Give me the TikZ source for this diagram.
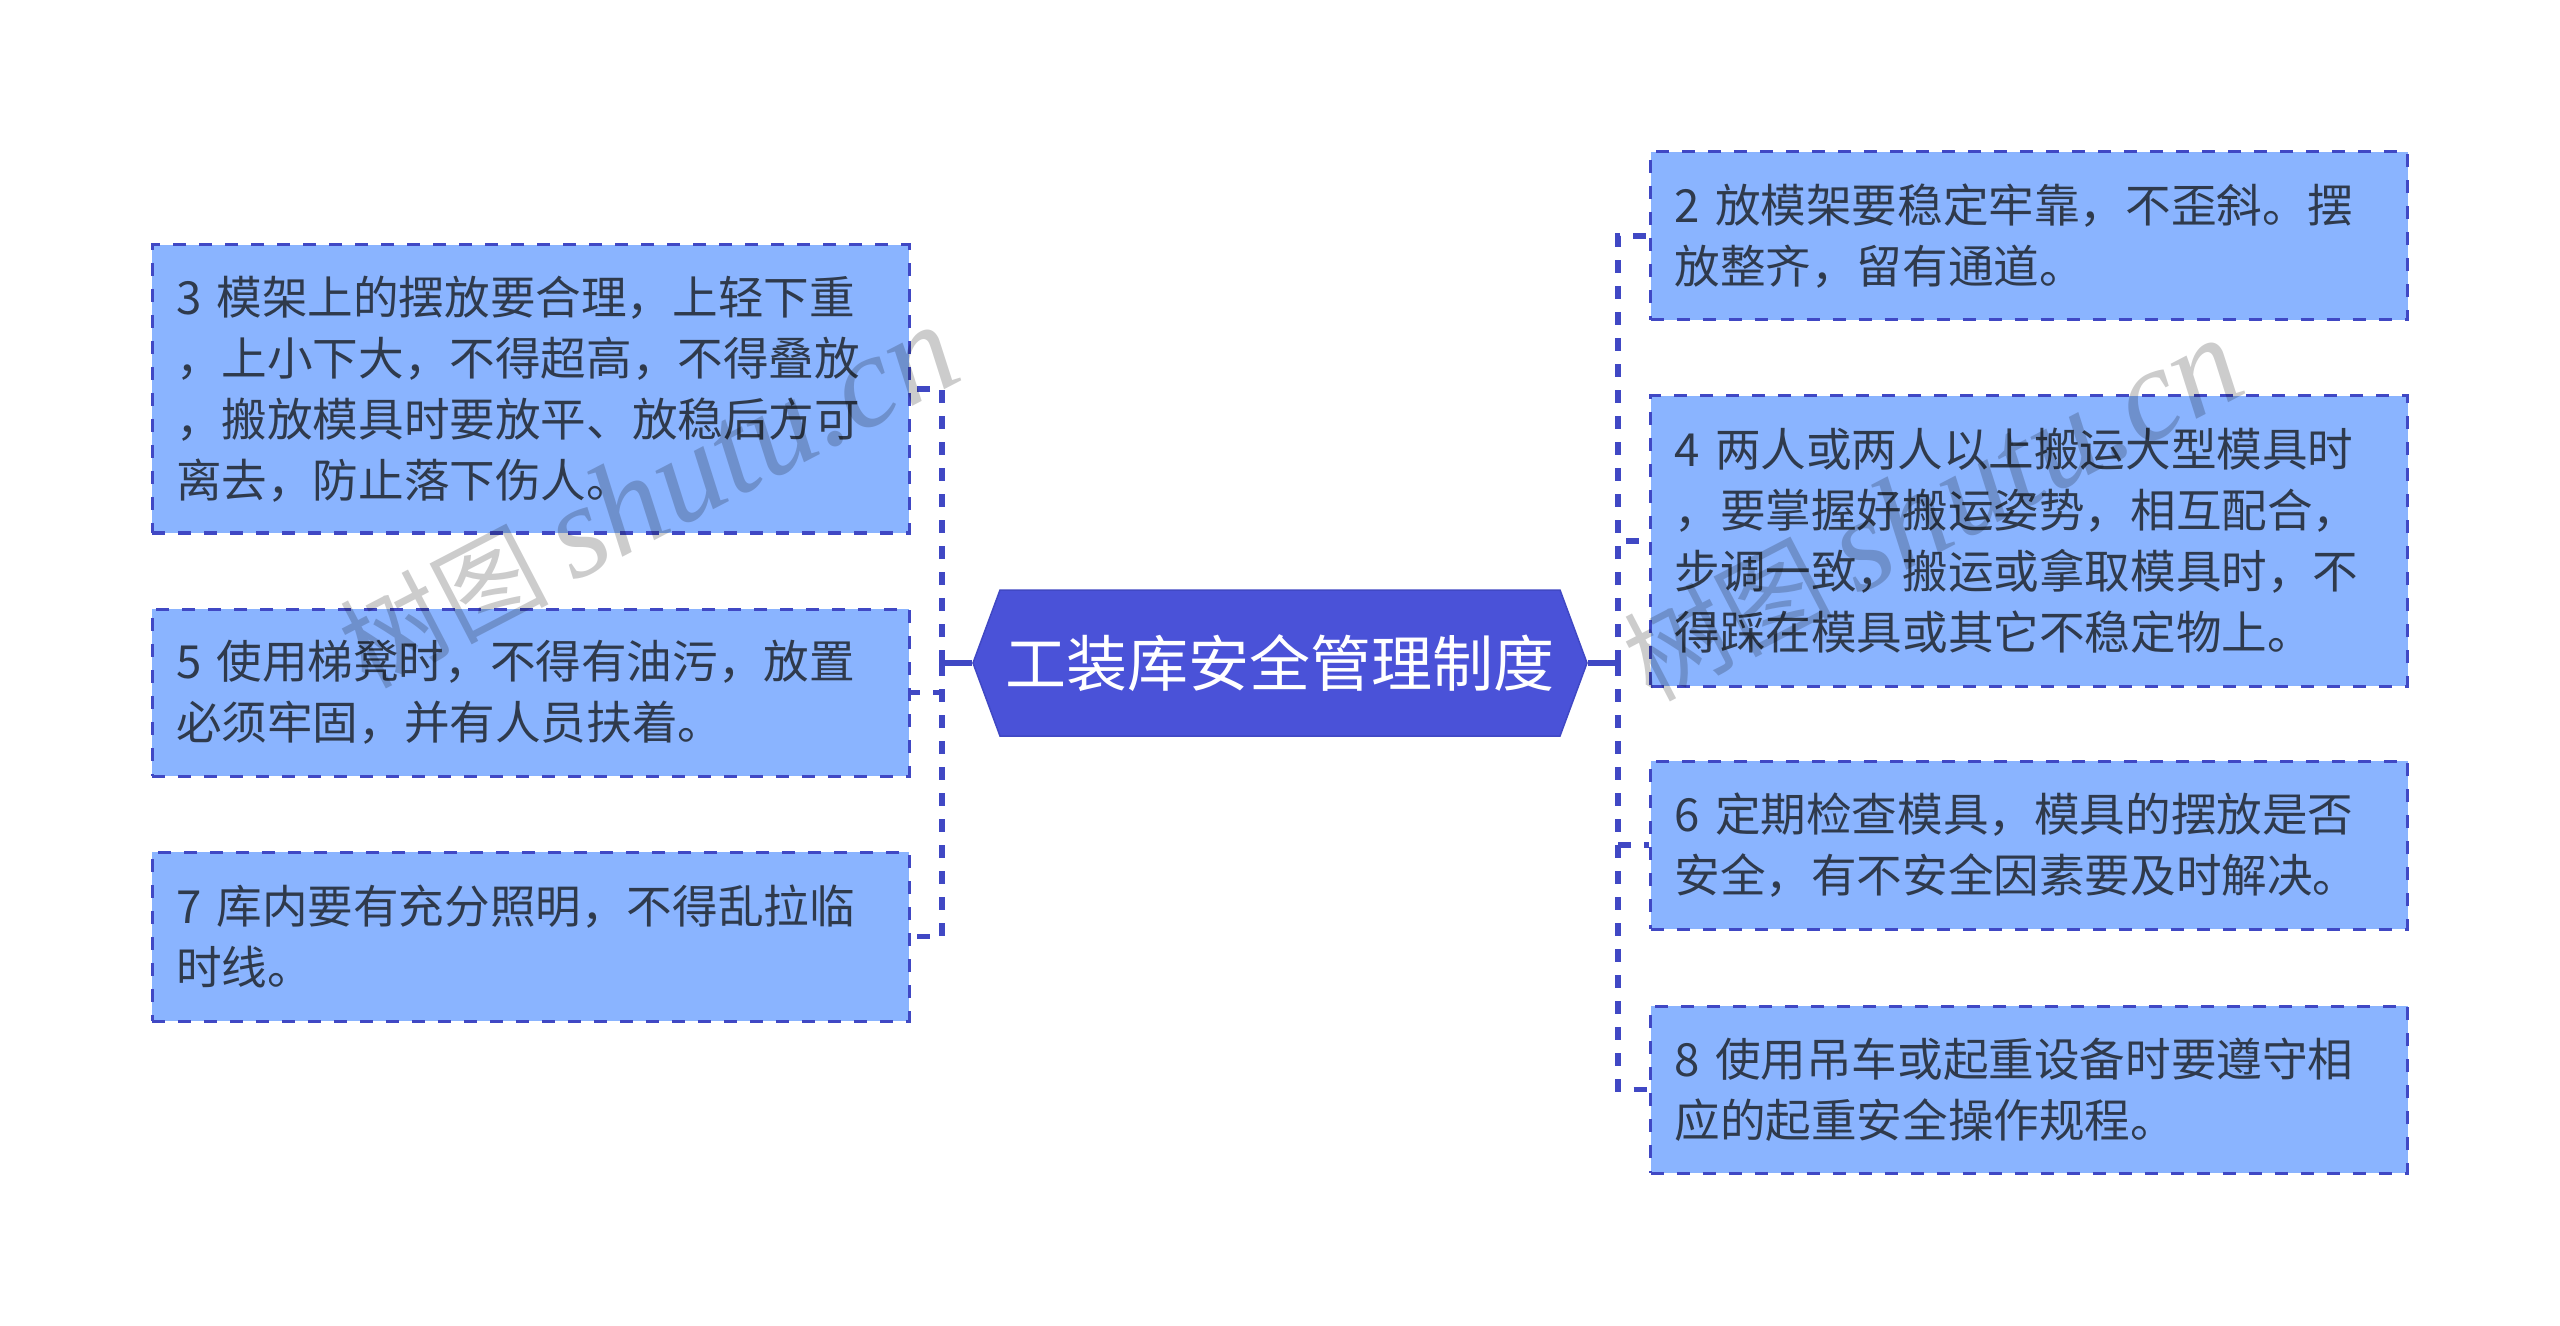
\documentclass[tikz,border=0pt]{standalone}
\usepackage{fontspec}
\setmainfont{Noto Sans CJK SC}
\newfontfamily\marklatin{Liberation Serif}
\usepackage{xcolor}
\usetikzlibrary{positioning,shapes.symbols}

\definecolor{boxfill}{HTML}{8AB4FF}
\definecolor{hubfill}{HTML}{4A52D8}
\definecolor{linkcol}{HTML}{4048C4}
\definecolor{textcol}{HTML}{2F3A4C}

\newcommand{\marktext}{{\fontsize{52}{52}\selectfont 树图 \fontsize{66}{66}\selectfont\marklatin\itshape shutu.cn}}

\tikzset{
    itembox/.style={draw=linkcol, fill=boxfill, line width=1.5pt, dash pattern=on 6.5pt off 6.5pt,
        minimum width=378.5pt, inner xsep=12pt, inner ysep=0pt, text width=354.5pt, align=left,
        text=textcol, font=\fontsize{22.8}{30.5}\selectfont},
    hubbox/.style={signal, signal to=west and east, signal pointer angle=139.4,
        draw=linkcol, fill=hubfill, line width=0.75pt, minimum width=307pt, minimum height=73pt,
        inner xsep=0pt, inner ysep=0pt, text=white, font=\fontsize{30.5}{36}\selectfont},
    linkline/.style={draw=linkcol, line width=2.8pt, dash pattern=on 6.5pt off 6.5pt},
    hubline/.style={draw=linkcol, line width=2.8pt},
    markfont/.style={text=black, opacity=0.2, rotate=27.5, inner sep=0pt}
}

\begin{document}
\begin{tikzpicture}[x=0.5pt, y=-0.5pt]
    \useasboundingbox[fill=white] (0,0) rectangle (2560,1326);

    \node[hubbox] (hub) at (1280,663) {工装库安全管理制度};

    % left side
    \node[itembox, minimum height=144pt] (item3) at (530.5,389) {3 模架上的摆放要合理，上轻下重\\，上小下大，不得超高，不得叠放\\，搬放模具时要放平、放稳后方可\\离去，防止落下伤人。};
    \node[itembox, minimum height=83.5pt] (item5) at (530.5,692.5) {5 使用梯凳时，不得有油污，放置\\必须牢固，并有人员扶着。};
    \node[itembox, minimum height=84.5pt] (item7) at (530.5,936.5) {7 库内要有充分照明，不得乱拉临\\时线。};

    % right side
    \node[itembox, minimum height=84pt] (item2) at (2029,236) {2 放模架要稳定牢靠，不歪斜。摆\\放整齐，留有通道。};
    \node[itembox, minimum height=145pt] (item4) at (2029,541) {4 两人或两人以上搬运大型模具时\\，要掌握好搬运姿势，相互配合，\\步调一致，搬运或拿取模具时，不\\得踩在模具或其它不稳定物上。};
    \node[itembox, minimum height=84pt] (item6) at (2029,845) {6 定期检查模具，模具的摆放是否\\安全，有不安全因素要及时解决。};
    \node[itembox, minimum height=83.5pt] (item8) at (2029,1089.5) {8 使用吊车或起重设备时要遵守相\\应的起重安全操作规程。};

    \coordinate (ljoin) at (942,663);
    \coordinate (rjoin) at (1618,663);

    \draw[hubline] (hub.west) -- (ljoin);
    \draw[hubline] (hub.east) -- (rjoin);

    \draw[linkline] (ljoin) |- (item3.east);
    \draw[linkline] (ljoin) |- (item5.east);
    \draw[linkline] (ljoin) |- (item7.east);

    \draw[linkline] (rjoin) |- (item2.west);
    \draw[linkline] (rjoin) |- (item4.west);
    \draw[linkline] (rjoin) |- (item6.west);
    \draw[linkline] (rjoin) |- (item8.west);

    % watermarks
    \node[markfont] (markleft) at (648,497) {\marktext};
    \node[markfont] (markright) at (1932,510) {\marktext};
\end{tikzpicture}
\end{document}
